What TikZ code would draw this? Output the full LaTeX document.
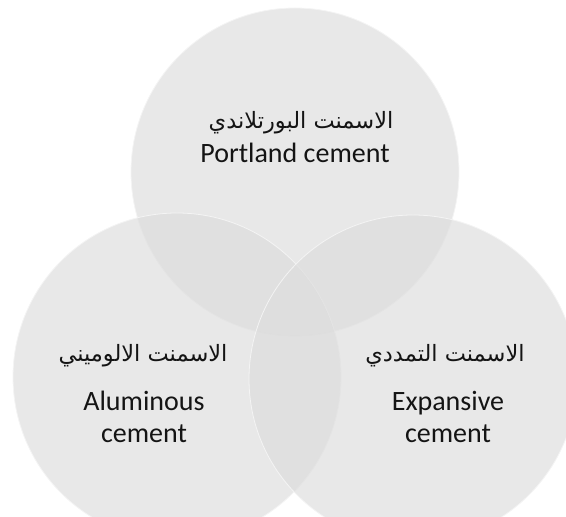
\documentclass[tikz,border=0pt]{standalone}
\usepackage{fontspec}
\setmainfont{Carlito}
\newfontfamily\arabicfont[Script=Arabic]{DejaVu Sans}
\TeXXeTstate=1
\definecolor{ink}{HTML}{141414}
\definecolor{disc}{HTML}{DCDCDC}
\definecolor{rim}{HTML}{F4F4F4}

\begin{document}
\begin{tikzpicture}[x=1pt,y=1pt,
  every node/.style={text=ink,inner sep=0pt},
  cementdisc/.style={circle,minimum size=328pt,fill=disc,fill opacity=.65,
    draw=rim,line width=.8pt},
  latin/.style={font=\fontsize{28}{32}\selectfont,align=center},
  arabic/.style={font=\fontsize{22.5}{26}\selectfont\arabicfont}]
\useasboundingbox (0,0) rectangle (566,517);
\clip (0,0) rectangle (566,517);

% Three overlapping discs, one per cement type.
\node[cementdisc] (portland) at (295,345) {};
\node[cementdisc] (aluminous) at (177,140) {};
\node[cementdisc] (expansive) at (413,138) {};

\node[arabic] (portlandar) at (301,394) {\beginR الاسمنت البورتلاندي\endR};
\node[latin] (portlanden) at (295,364) {Portland cement};

\node[arabic] (aluminousar) at (143,161) {\beginR الاسمنت الالوميني\endR};
\node[latin] (aluminousen) at (144,100) {Aluminous\\cement};

\node[arabic] (expansivear) at (445,161) {\beginR الاسمنت التمددي\endR};
\node[latin] (expansiveen) at (448,100) {Expansive\\cement};
\end{tikzpicture}
\end{document}
